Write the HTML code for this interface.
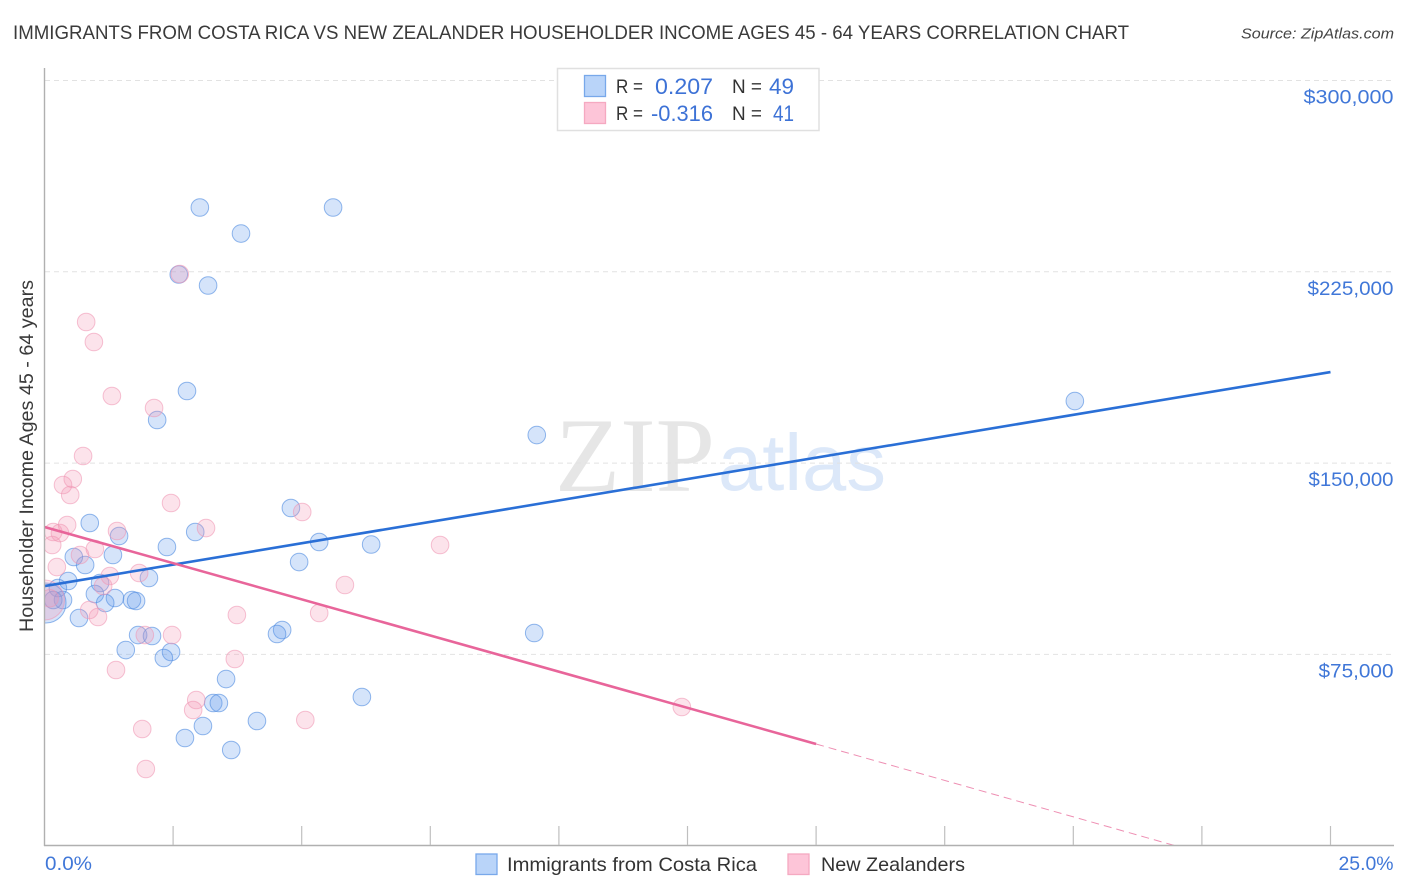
<!DOCTYPE html>
<html lang="en">
<head>
<meta charset="utf-8">
<title>Immigrants from Costa Rica vs New Zealander Householder Income Correlation Chart</title>
<style>
html,body{margin:0;padding:0;background:#fff;}
svg{display:block;font-family:"Liberation Sans",sans-serif;}
</style>
</head>
<body>
<svg id="chart" width="1406" height="892" viewBox="0 0 1406 892" xmlns="http://www.w3.org/2000/svg">
  <defs>
    <clipPath id="plot-clip"><rect x="45" y="68" width="1349" height="777"/></clipPath>
  </defs>
  <text x="13" y="39" font-size="19.5" fill="#3a3a3a" textLength="1116" lengthAdjust="spacingAndGlyphs">IMMIGRANTS FROM COSTA RICA VS NEW ZEALANDER HOUSEHOLDER INCOME AGES 45 - 64 YEARS CORRELATION CHART</text>
  <text x="1241" y="38.5" font-size="15" font-style="italic" fill="#444" textLength="153" lengthAdjust="spacingAndGlyphs">Source: ZipAtlas.com</text>

  <g id="watermark">
    <text x="555" y="491" font-family="'Liberation Serif',serif" font-size="106" fill="#e6e6e6" textLength="160" lengthAdjust="spacingAndGlyphs">ZIP</text>
    <text x="718" y="490" font-family="'Liberation Sans',sans-serif" font-size="80" fill="#dce8f9" textLength="168" lengthAdjust="spacingAndGlyphs">atlas</text>
  </g>

  <g id="grid"></g>
  <g id="points" clip-path="url(#plot-clip)"></g>
  <g id="trends"></g>
  <g id="axes"></g>

  <text transform="translate(33,632) rotate(-90)" font-size="19" fill="#3a3a3a" textLength="352" lengthAdjust="spacingAndGlyphs">Householder Income Ages 45 - 64 years</text>

  <g id="stats-legend">
    <rect x="557.5" y="68.5" width="261.5" height="62" fill="#fff" stroke="#e0e0e0" stroke-width="1.5"/>
    <rect x="584.5" y="75.5" width="21" height="21" fill="#b9d4f9" stroke="#78a8ea" stroke-width="1.3"/>
    <rect x="584.5" y="102.5" width="21" height="21" fill="#fdc5d8" stroke="#f5a9c1" stroke-width="1.3"/>
    <text x="616" y="93" font-size="19" fill="#333" textLength="27" lengthAdjust="spacingAndGlyphs">R =</text>
    <text x="655" y="94" font-size="22" fill="#3d72d6" textLength="58" lengthAdjust="spacingAndGlyphs">0.207</text>
    <text x="732" y="93" font-size="19" fill="#333" textLength="30" lengthAdjust="spacingAndGlyphs">N =</text>
    <text x="769" y="94" font-size="22" fill="#3d72d6" textLength="25" lengthAdjust="spacingAndGlyphs">49</text>
    <text x="616" y="120" font-size="19" fill="#333" textLength="27" lengthAdjust="spacingAndGlyphs">R =</text>
    <text x="651" y="121" font-size="22" fill="#3d72d6" textLength="62" lengthAdjust="spacingAndGlyphs">-0.316</text>
    <text x="732" y="120" font-size="19" fill="#333" textLength="30" lengthAdjust="spacingAndGlyphs">N =</text>
    <text x="773" y="121" font-size="22" fill="#3d72d6" textLength="21" lengthAdjust="spacingAndGlyphs">41</text>
  </g>

  <g id="bottom-legend">
    <rect x="476" y="854" width="21" height="20.5" fill="#b9d4f9" stroke="#78a8ea" stroke-width="1.3"/>
    <text x="507" y="871" font-size="19.5" fill="#333" textLength="250" lengthAdjust="spacingAndGlyphs">Immigrants from Costa Rica</text>
    <rect x="788" y="854" width="21" height="20.5" fill="#fdc5d8" stroke="#f5a9c1" stroke-width="1.3"/>
    <text x="821" y="871" font-size="19.5" fill="#333" textLength="144" lengthAdjust="spacingAndGlyphs">New Zealanders</text>
  </g>
</svg>
<script>
const yTickValues = [75000, 150000, 225000, 300000];
const yTickLabels = ["$75,000", "$150,000", "$225,000", "$300,000"];
const xTickValues = [0, 2.5, 5, 7.5, 10, 12.5, 15, 17.5, 20, 22.5, 25];
const xEndLabels = ["0.0%", "25.0%"];

const blueX = [0.03,3.02,5.61,3.82,3.18,2.61,2.77,2.19,20.03,9.57,4.79,0.88,1.45,2.93,2.38,5.34,6.35,4.95,1.33,0.57,0.79,0.46,1.08,2.03,0.26,0.98,1.37,0.36,0.17,1.70,1.78,1.18,0.67,9.52,1.82,2.09,4.62,4.52,1.58,2.46,2.32,3.53,6.17,3.28,3.39,4.13,3.08,2.73,3.63];
const blueY = [95150,250210,250210,240010,219630,223940,178270,166900,174340,161010,132400,126520,121420,122990,117110,119070,118090,111220,113970,113190,110050,103780,102990,104950,101030,98680,97110,96330,96330,96330,95940,95150,89270,83390,82600,82210,84570,83000,76720,75940,73590,65350,58300,55950,55950,48890,46930,42220,37520];

const pinkX = [0,0.36,0.55,0.50,2.46,1.41,3.14,0.44,0.17,0.30,0.15,0.98,0.69,0.24,1.84,1.27,1.14,0.87,1.04,3.74,1.95,2.48,3.70,1.39,0.81,0.96,1.31,2.13,0.75,5.01,7.69,5.84,5.34,2.95,2.89,5.07,1.90,1.97,12.39,2.63,0.10];
const pinkY = [96330,141410,143770,137490,134360,123380,124550,125730,122990,122590,117890,116320,113970,109260,106910,105740,101820,92410,89660,90450,82600,82600,73200,68880,205320,197480,176310,171600,152780,130830,117890,102210,91230,57120,53200,49280,45750,30070,54380,224130,97000];

const blueTrendX = [0, 25];
const blueTrendY = [101800, 185700];
const pinkTrendX = [0, 15];
const pinkTrendY = [124950, 39870];
const pinkDashX = [15, 21.98];
const pinkDashY = [39870, 0];

const NS = "http://www.w3.org/2000/svg";
const X0 = 44.5, XPX = 51.44;
const Y0 = 845.7, YPX = 191.3 / 75000;
function sx(v){ return X0 + v * XPX; }
function sy(v){ return Y0 - v * YPX; }
function labelWidth(text){
  if (text.length < 8) return 75;
  return text.charAt(1) === "3" ? 90 : text.charAt(1) === "2" ? 86 : 85;
}

function make(parent, tag, attrs){
  const el = document.createElementNS(NS, tag);
  for (const k in attrs) el.setAttribute(k, attrs[k]);
  parent.appendChild(el);
  return el;
}

const grid = document.getElementById("grid");
const axes = document.getElementById("axes");
const points = document.getElementById("points");
const trends = document.getElementById("trends");

yTickValues.forEach(function(v, i){
  const line = make(grid, "line", {x1:45, x2:1394, y1:sy(v), y2:sy(v), stroke:"#e2e2e2", "stroke-width":1, "stroke-dasharray":"5 4"});
  
  
  const label = make(axes, "text", {x:1393.5, y:sy(v) + 23, "font-size":19.5, fill:"#4077d8", "text-anchor":"end", textLength:labelWidth(yTickLabels[i]), lengthAdjust:"spacingAndGlyphs"});
  label.textContent = yTickLabels[i];
  
  
});

const yAxis = make(axes, "line", {x1:44.5, x2:44.5, y1:68, y2:846, stroke:"#b0b0b0", "stroke-width":1.4});


const xAxis = make(axes, "line", {x1:44, x2:1394, y1:845.5, y2:845.5, stroke:"#b0b0b0", "stroke-width":1.4});



xTickValues.forEach(function(v){
  if (v === 0) return;
  const tick = make(axes, "line", {x1:sx(v), x2:sx(v), y1:826, y2:845, stroke:"#bfbfbf", "stroke-width":1.2});
  
  
});

const xLabelStart = make(axes, "text", {x:45, y:870, "font-size":19.5, fill:"#4077d8", textLength:47, lengthAdjust:"spacingAndGlyphs"});
xLabelStart.textContent = xEndLabels[0];


const xLabelEnd = make(axes, "text", {x:1393.5, y:870, "font-size":19.5, fill:"#4077d8", "text-anchor":"end", textLength:55, lengthAdjust:"spacingAndGlyphs"});
xLabelEnd.textContent = xEndLabels[1];



blueX.forEach(function(v, i){
  const c = make(points, "circle", {cx:sx(v), cy:sy(blueY[i]), r:i === 0 ? 20 : 8.8, fill:"rgba(100,155,235,0.27)", stroke:"rgba(80,140,225,0.62)", "stroke-width":1});
  
  
});
pinkX.forEach(function(v, i){
  const c = make(points, "circle", {cx:sx(v), cy:sy(pinkY[i]), r:i === 0 ? 20 : 8.8, fill:"rgba(245,150,180,0.27)", stroke:"rgba(240,150,180,0.58)", "stroke-width":1});
  
  
});

const blueLine = make(trends, "line", {x1:sx(blueTrendX[0]), y1:sy(blueTrendY[0]), x2:sx(blueTrendX[1]), y2:sy(blueTrendY[1]), stroke:"#2a6fd6", "stroke-width":2.6});


const pinkLine = make(trends, "line", {x1:sx(pinkTrendX[0]), y1:sy(pinkTrendY[0]), x2:sx(pinkTrendX[1]), y2:sy(pinkTrendY[1]), stroke:"#e8659a", "stroke-width":2.6});


const pinkDash = make(trends, "line", {x1:sx(pinkDashX[0]), y1:sy(pinkDashY[0]), x2:sx(pinkDashX[1]), y2:sy(pinkDashY[1]), stroke:"#ee8fb3", "stroke-width":1, "stroke-dasharray":"8 5"});


</script>
</body>
</html>
